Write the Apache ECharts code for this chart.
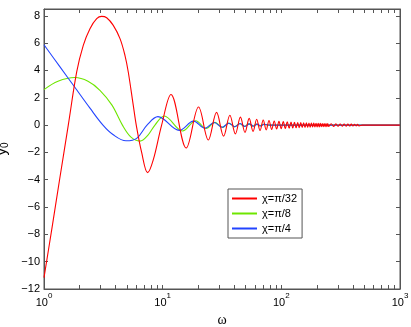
<!DOCTYPE html>
<html>
<head>
<meta charset="utf-8">
<script src="https://cdn.jsdelivr.net/npm/echarts@6/dist/echarts.min.js"></script>
<style>
  html, body { margin: 0; padding: 0; background: #fff; }
  #chart { width: 411px; height: 327px; }
</style>
</head>
<body>
<div id="chart"></div>
<script>
// tick positions and labels
const xTickValues = [1, 10, 100, 1000]
const xTickExps = ['0', '1', '2', '3']
const xMinorTicks = [1, 2, 3, 4, 5, 6, 7, 8, 9, 10, 20, 30, 40, 50, 60, 70, 80, 90, 100,
  200, 300, 400, 500, 600, 700, 800, 900]
const yTicks = [-12, -10, -8, -6, -4, -2, 0, 2, 4, 6, 8]

const seriesNames = ['χ=π/32', 'χ=π/8', 'χ=π/4']

// [omega, y0] (extrema + a few points in between)
const red = [
  [1, -11.17], [1.168, -7.52], [1.364, -3.8], [1.602, 0], [1.886, 3.89], [2.143, 5.84],
  [2.44, 7.06], [2.78, 7.79], [3.06, 7.96], [3.375, 7.86], [3.835, 7.3], [4.37, 6.33],
  [4.81, 5.11], [5.13, 3.89], [5.65, 1.46], [5.99, 0], [6.65, -2.0], [7.47, -3.48],
  [8.33, -2.55], [9.8, 0], [11.75, 2.24], [15.8, -1.68], [20.07, 1.32], [24.26, -1.09],
  [28.45, 0.93], [32.64, -0.81], [36.83, 0.72], [41.02, -0.646], [45.21, 0.586],
  [49.4, -0.536], [53.59, 0.494], [57.78, -0.459], [61.97, 0.428], [66.16, -0.401],
  [70.35, 0.377], [74.54, -0.356], [78.73, 0.337], [82.92, -0.32], [87.11, 0.304],
  [91.3, -0.29], [95.49, 0.278], [99.68, -0.266], [103.87, 0.255], [108.06, -0.245],
  [112.25, 0.236], [116.44, -0.228], [120.63, 0.22], [124.82, -0.212], [129.01, 0.205],
  [133.2, -0.199], [137.39, 0.193], [141.58, -0.187], [145.77, 0.182], [149.96, -0.177],
  [154.15, 0.172], [158.34, -0.167], [162.53, 0.163], [166.72, -0.159], [170.91, 0.155],
  [175.1, -0.151], [179.29, 0.148], [183.48, -0.144], [187.67, 0.141], [191.86, -0.138],
  [196.05, 0.135], [200.24, -0.132], [204.43, 0.13], [208.62, -0.127], [212.81, 0.125],
  [217, -0.122], [221.19, 0.12], [225.38, -0.118], [229.57, 0.115], [233.76, -0.113],
  [237.95, 0.111], [242.14, -0.109], [246.33, 0.108], [250.52, -0.106], [263.09, 0.101],
  [275.66, -0.096], [288.23, 0.092], [300.8, -0.088], [313.37, 0.085], [325.94, -0.081],
  [338.51, 0.078], [351.08, -0.075], [363.65, 0.073], [376.22, -0.07], [388.79, 0.068],
  [401.36, -0.066], [413.93, 0.064], [426.5, -0.062], [439.07, 0.06], [451.64, -0.059],
  [480, 0], [1000, 0]
]

const green = [
  [1, 2.6], [1.312, 3.21], [1.82, 3.48], [2.348, 3.21], [2.96, 2.55], [3.74, 1.46],
  [4.58, 0], [5.41, -0.88], [6.44, -1.17], [7.52, -0.73], [8.61, 0], [10.3, 0.67],
  [14.7, -0.43], [19.0, 0.32], [23.3, -0.25], [27.6, 0.2], [31.9, -0.17], [36.1, 0.147],
  [40.4, -0.128], [44.6, 0.114], [48.9, -0.102], [53.1, 0.092], [57.4, -0.084],
  [61.6, 0.077], [65.9, -0.071], [70.1, 0.065], [78, 0], [1000, 0]
]

const blue = [
  [1, 5.88], [1.364, 4.26], [1.825, 2.75], [2.44, 1.24], [3.14, 0], [3.81, -0.69],
  [4.91, -1.15], [6.04, -0.97], [7.38, 0], [9.13, 0.62], [13.8, -0.39], [18.2, 0.29],
  [22.7, -0.23], [27.2, 0.19], [31.7, -0.16], [36.1, 0.14], [40.6, -0.12], [45.0, 0.11],
  [49.5, -0.1], [54.0, 0.09], [58.4, -0.08], [62.9, 0.07], [67.3, -0.065], [71.8, 0.06],
  [80, 0], [1000, 0]
]

const chart = echarts.init(document.getElementById('chart'))

const axisColor = '#555'
const font = 'Liberation Sans'

const supRich = {
  b: { fontSize: 11, lineHeight: 16, verticalAlign: 'bottom', fontFamily: font, color: '#000' },
  s: { fontSize: 8, lineHeight: 8, verticalAlign: 'top', fontFamily: font, color: '#000' }
}

// fresh objects for every axis
function makeXAxis (extra) {
  return Object.assign({
    type: 'log',
    min: 1,
    max: 1000,
    splitLine: { show: false },
    axisLine: { show: true, onZero: false, lineStyle: { color: axisColor, width: 1 } },
    axisTick: { show: true, inside: true, length: 4, customValues: xMinorTicks.slice(), lineStyle: { color: axisColor } }
  }, extra)
}

function makeYAxis (extra) {
  return Object.assign({
    type: 'value',
    min: -12,
    max: 8.5,
    splitLine: { show: false },
    axisLine: { show: true, onZero: false, lineStyle: { color: axisColor, width: 1 } },
    axisTick: { show: true, inside: true, length: 4, customValues: yTicks.slice(), lineStyle: { color: axisColor } }
  }, extra)
}

const option = {
  animation: false,
  backgroundColor: '#fff',
  grid: {
    left: 44, right: 11, top: 9, bottom: 38,
    outerBoundsMode: 'none', containLabel: false,
    show: true, borderColor: axisColor, borderWidth: 1
  },
  legend: {
    orient: 'vertical',
    left: 228,
    top: 189,
    padding: [4, 5, 4, 4],
    itemGap: 4,
    itemWidth: 25,
    itemHeight: 2,
    icon: 'rect',
    borderColor: axisColor,
    borderWidth: 1,
    backgroundColor: '#fff',
    textStyle: { fontFamily: font, fontSize: 11, lineHeight: 11, color: '#000' },
    data: seriesNames
  },
  xAxis: [
    makeXAxis({
      position: 'bottom',
      name: 'ω',
      nameLocation: 'middle',
      nameGap: 20,
      nameTextStyle: { fontFamily: 'Liberation Serif', fontSize: 14, color: '#000' },
      axisLabel: {
        show: true,
        margin: 3,
        customValues: xTickValues,
        formatter: function (v) {
          const i = xTickValues.findIndex(t => Math.abs(t - v) / t < 1e-6)
          return '{b|10}{s|' + xTickExps[i] + '}'
        },
        rich: supRich
      }
    }),
    makeXAxis({
      position: 'top',
      axisLabel: { show: false }
    })
  ],
  yAxis: [
    makeYAxis({
      position: 'left',
      name: '{y|y}{s|0}',
      nameLocation: 'middle',
      nameGap: 20,
      nameRotate: 90,
      nameTextStyle: {
        rich: {
          y: { fontSize: 15, lineHeight: 16, verticalAlign: 'top', fontFamily: font, color: '#000' },
          s: { fontSize: 10, lineHeight: 9, verticalAlign: 'bottom', fontFamily: font, color: '#000' }
        }
      },
      axisLabel: {
        show: true,
        margin: 4,
        customValues: yTicks,
        fontFamily: font,
        fontSize: 11,
        color: '#000',
        formatter: v => String(v).replace('-', '\u2212')
      }
    }),
    makeYAxis({
      position: 'right',
      axisLabel: { show: false }
    })
  ],
  // red is listed last so it is drawn on top, the legend keeps its own order
  series: [
    {
      name: seriesNames[1], type: 'line', data: green, symbol: 'none', smooth: 0.36,
      lineStyle: { color: '#6ee600', width: 1.1 }, itemStyle: { color: '#6ee600' }
    },
    {
      name: seriesNames[2], type: 'line', data: blue, symbol: 'none', smooth: 0.36,
      lineStyle: { color: '#2244ff', width: 1.1 }, itemStyle: { color: '#2244ff' }
    },
    {
      name: seriesNames[0], type: 'line', data: red, symbol: 'none', smooth: 0.36,
      lineStyle: { color: '#ff0000', width: 1.1 }, itemStyle: { color: '#ff0000' }
    },
    // empty series bound to the top and right axes of the box
    { type: 'line', xAxisIndex: 1, yAxisIndex: 1, data: [] }
  ]
}

chart.setOption(option)
</script>
</body>
</html>
